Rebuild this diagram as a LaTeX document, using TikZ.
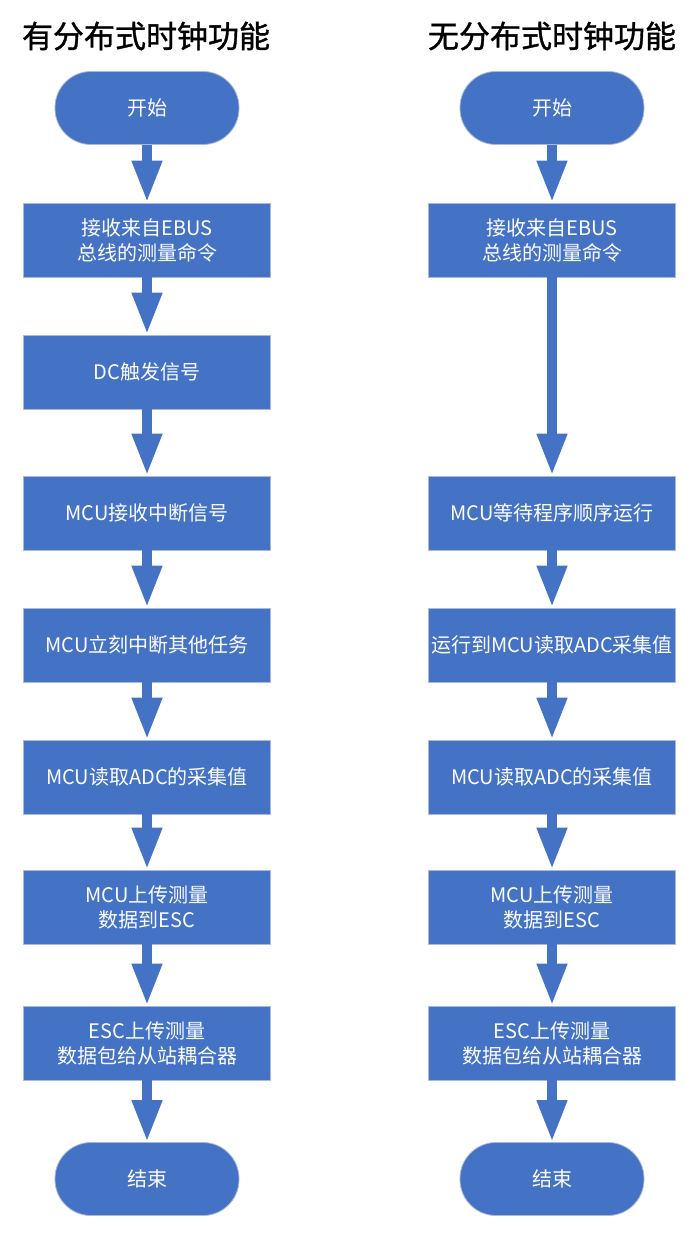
\documentclass[tikz,border=0pt]{standalone}
\usepackage{fontspec}
\setmainfont{Noto Sans CJK SC}
\newfontfamily\titlefont{Noto Sans CJK SC}[FakeBold=1.2]
\usetikzlibrary{arrows.meta}
\definecolor{boxblue}{HTML}{4472C4}
\definecolor{boxedge}{HTML}{A9B9DA}
\tikzset{
  proc/.style={rectangle, fill=boxblue, draw=boxedge, line width=0.8pt,
    minimum width=247pt, minimum height=74pt, text=white, align=center,
    font=\fontsize{20}{25}\selectfont, inner sep=0pt},
  term/.style={rectangle, rounded corners=36pt, fill=boxblue, draw=boxedge, line width=0.8pt,
    minimum width=184pt, minimum height=73pt, text=white, align=center,
    font=\fontsize{20}{25}\selectfont, inner sep=0pt},
  title/.style={text=black, font=\titlefont\fontsize{31}{34}\selectfont, inner sep=0pt},
  flow/.style={draw=boxblue, line width=10pt, -{Triangle[width=28pt,length=42pt]}}
}
\begin{document}
\begin{tikzpicture}[x=1pt,y=-1pt]
\useasboundingbox (0,0) rectangle (697,1238);
\fill[white] (0,0) rectangle (697,1238);
% titles
\node[title] (t1) at (146,36) {有分布式时钟功能};
\node[title] (t2) at (552,36) {无分布式时钟功能};
% left column
\node[term] (ls) at (147,108) {开始};
\node[proc] (l1) at (147,240) {接收来自EBUS\\总线的测量命令};
\node[proc] (l2) at (147,372) {DC触发信号};
\node[proc] (l3) at (147,513) {MCU接收中断信号};
\node[proc] (l4) at (147,645) {MCU立刻中断其他任务};
\node[proc] (l5) at (147,777) {MCU读取ADC的采集值};
\node[proc] (l6) at (147,907) {MCU上传测量\\数据到ESC};
\node[proc] (l7) at (147,1043) {ESC上传测量\\数据包给从站耦合器};
\node[term] (le) at (147,1179) {结束};
% right column
\node[term] (rs) at (552,108) {开始};
\node[proc] (r1) at (552,240) {接收来自EBUS\\总线的测量命令};
\node[proc] (r3) at (552,513) {MCU等待程序顺序运行};
\node[proc] (r4) at (552,645) {运行到MCU读取ADC采集值};
\node[proc] (r5) at (552,777) {MCU读取ADC的采集值};
\node[proc] (r6) at (552,907) {MCU上传测量\\数据到ESC};
\node[proc] (r7) at (552,1043) {ESC上传测量\\数据包给从站耦合器};
\node[term] (re) at (552,1179) {结束};
% arrows
\draw[flow] (ls.south) -- (l1.north);
\draw[flow] (l1.south) -- (l2.north);
\draw[flow] (l2.south) -- (l3.north);
\draw[flow] (l3.south) -- (l4.north);
\draw[flow] (l4.south) -- (l5.north);
\draw[flow] (l5.south) -- (l6.north);
\draw[flow] (l6.south) -- (l7.north);
\draw[flow] (l7.south) -- (le.north);
\draw[flow] (rs.south) -- (r1.north);
\draw[flow] (r1.south) -- (r3.north);
\draw[flow] (r3.south) -- (r4.north);
\draw[flow] (r4.south) -- (r5.north);
\draw[flow] (r5.south) -- (r6.north);
\draw[flow] (r6.south) -- (r7.north);
\draw[flow] (r7.south) -- (re.north);
\end{tikzpicture}
\end{document}
